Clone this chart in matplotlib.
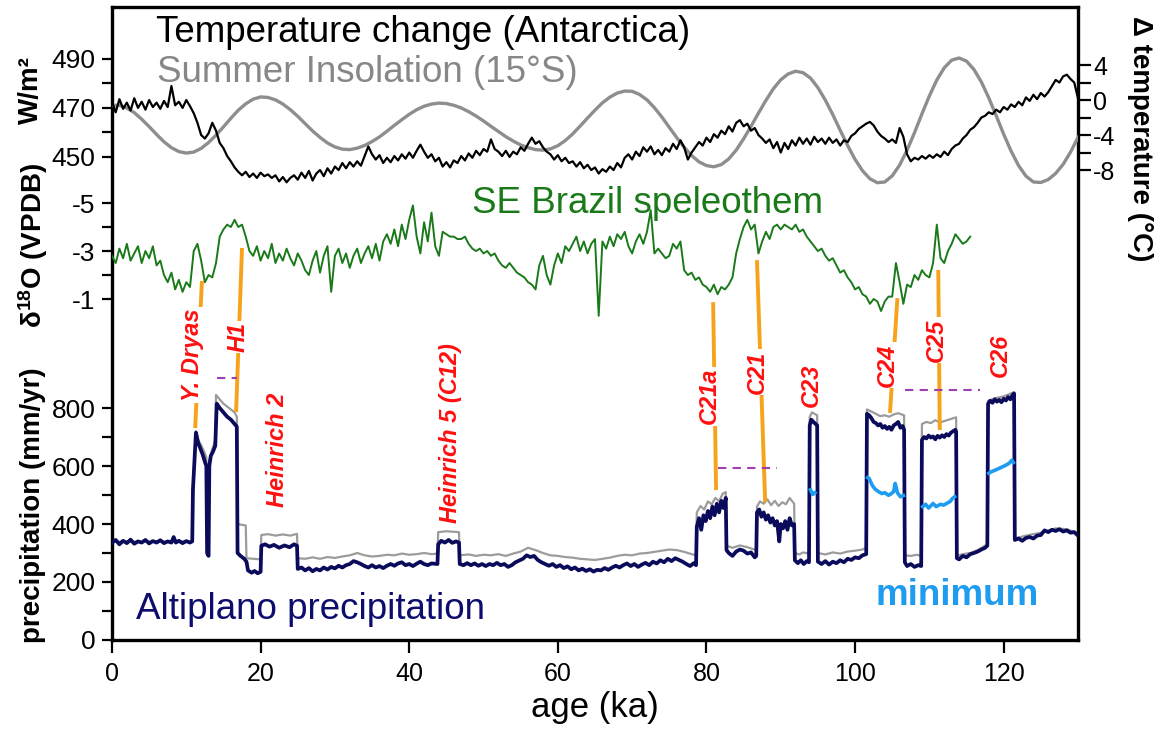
import numpy as np
import matplotlib
matplotlib.use("Agg")
import matplotlib.pyplot as plt

plt.rcParams['font.family'] = ['Liberation Sans', 'DejaVu Sans']
plt.rcParams['axes.unicode_minus'] = False
plt.rcParams['mathtext.fontset'] = 'custom'
plt.rcParams['mathtext.rm'] = 'Liberation Sans'
plt.rcParams['mathtext.bf'] = 'Liberation Sans:bold'
plt.rcParams['mathtext.it'] = 'Liberation Sans:italic'
plt.rcParams['mathtext.default'] = 'regular'

# Temperatura Antartica (degC), un valor cada 0.5 ka desde 0 ka
tempAntartica = [
    -0.2, -1.4, 0.1, -1.0, -0.3, -1.2, 0.2, -0.9, -0.2, -1.1,
    0.0, -0.8, -0.3, -1.0, -0.1, -0.8, 1.6, -0.6, -0.2, -0.9,
    0.0, -0.7, -1.5, -2.6, -4.0, -4.4, -3.8, -2.6, -3.5, -4.9,
    -5.5, -6.4, -7.0, -7.7, -8.2, -8.6, -8.2, -8.8, -8.4, -8.9,
    -8.3, -8.7, -8.5, -8.9, -8.6, -9.3, -8.8, -9.4, -8.9, -8.6,
    -9.1, -8.3, -8.9, -8.1, -9.2, -8.4, -8.0, -8.7, -7.8, -8.4,
    -7.6, -8.0, -7.2, -7.8, -7.1, -7.6, -7.0, -7.5, -6.4, -5.3,
    -6.2, -6.8, -6.3, -7.2, -6.6, -7.1, -6.4, -6.9, -6.2, -6.7,
    -6.0, -6.6, -5.8, -5.1, -5.9, -6.6, -6.2, -7.0, -6.6, -7.6,
    -7.1, -7.7, -6.9, -7.2, -6.4, -6.9, -6.1, -6.6, -5.8, -6.3,
    -5.6, -5.9, -4.5, -5.6, -5.9, -6.4, -5.8, -6.5, -5.9, -6.2,
    -5.4, -5.8, -5.0, -4.3, -5.0, -4.7, -5.4, -5.9, -6.2, -6.8,
    -6.3, -7.0, -6.6, -7.2, -7.0, -7.6, -7.1, -7.8, -7.4, -8.0,
    -7.7, -8.4, -7.9, -8.2, -7.6, -8.0, -7.2, -7.7, -6.6, -6.2,
    -6.8, -5.9, -6.4, -5.4, -5.9, -5.3, -6.2, -5.7, -6.3, -5.5,
    -5.9, -5.0, -5.6, -4.6, -5.4, -6.8, -6.0, -5.4, -4.8, -5.2,
    -4.3, -4.8, -3.9, -4.3, -3.5, -3.9, -3.0, -3.6, -2.6, -2.3,
    -3.0, -2.7, -3.5, -3.2, -4.0, -4.4, -4.9, -4.5, -5.5, -4.8,
    -6.0, -4.9, -5.6, -4.6, -5.2, -4.3, -5.0, -4.4, -5.1, -4.2,
    -4.8, -4.4, -5.0, -4.3, -4.9, -4.5, -5.2, -4.6, -4.8, -4.1,
    -3.8, -3.3, -3.0, -2.7, -2.5, -2.9, -3.6, -4.1, -4.4, -4.8,
    -4.5, -4.9, -3.2, -4.2, -6.2, -7.0, -6.6, -6.8, -6.4, -6.7,
    -6.3, -6.6, -6.2, -6.5, -5.9, -6.3, -5.6, -5.2, -5.0, -4.4,
    -4.0, -3.4, -3.1, -2.6, -2.0, -1.8, -1.4, -1.6, -1.1, -1.4,
    -0.8, -1.1, -0.5, -0.8, -0.2, -0.6, 0.3, -0.1, 0.6, 0.1,
    0.8, 0.4, 0.9, 1.6, 2.3, 2.0, 2.7, 2.9, 2.4, 2.0,
    0.2]

# Insolacion de verano 15S (W/m2), un valor cada 1 ka
insolacion = [
    471.1, 471.1, 470.0, 468.1, 465.4, 462.4, 459.2, 456.2, 453.8, 452.2,
    451.6, 452.0, 453.5, 455.9, 458.9, 462.3, 465.8, 469.1, 471.7, 473.6,
    474.5, 474.3, 473.3, 471.6, 469.3, 466.6, 463.6, 460.6, 458.0, 455.7,
    454.1, 453.2, 453.0, 453.6, 454.7, 456.3, 458.2, 460.5, 462.9, 465.2,
    467.4, 469.3, 470.7, 471.6, 472.0, 471.8, 471.1, 470.0, 468.5, 466.7,
    464.7, 462.5, 460.4, 458.3, 456.5, 454.9, 453.8, 453.0, 452.8, 453.3,
    454.6, 456.7, 459.4, 462.6, 465.9, 469.1, 472.1, 474.4, 476.1, 476.9,
    476.8, 475.5, 473.3, 470.1, 466.3, 462.1, 457.9, 454.0, 450.6, 448.0,
    446.5, 446.0, 446.9, 449.2, 452.8, 457.4, 462.5, 467.9, 473.1, 477.8,
    481.5, 483.9, 485.0, 484.4, 482.2, 478.3, 473.2, 467.3, 460.9, 454.7,
    449.0, 444.4, 441.1, 439.5, 439.8, 442.3, 446.7, 452.8, 459.9, 467.6,
    474.9, 481.4, 486.4, 489.5, 490.4, 489.1, 485.7, 480.6, 474.1, 466.8,
    459.3, 452.4, 446.5, 442.2, 439.8, 439.6, 440.8, 443.3, 447.0, 452.0,
    458.0]

# d18O espeleotema SE Brasil (permil VPDB), cada 0.5 ka desde 0 ka
d18oBrasil = [
    -2.8, -2.5, -3.1, -2.7, -3.3, -2.6, -2.9, -3.2, -2.5, -3.0,
    -2.7, -3.2, -2.4, -2.6, -2.0, -1.7, -2.1, -1.4, -1.8, -1.3,
    -1.7, -1.5, -3.0, -3.3, -2.6, -1.7, -2.0, -1.9, -2.5, -3.6,
    -3.9, -4.1, -4.0, -4.3, -4.0, -4.1, -3.6, -3.0, -2.8, -3.2,
    -2.6, -3.0, -2.7, -3.3, -2.5, -2.9, -2.6, -3.1, -2.7, -2.4,
    -2.9, -2.6, -2.2, -2.0, -2.6, -3.0, -2.1, -2.8, -3.2, -1.3,
    -2.8, -3.1, -2.5, -2.9, -2.3, -2.8, -3.1, -2.5, -2.9, -3.2,
    -2.7, -3.3, -2.6, -3.4, -3.7, -3.3, -3.9, -3.2, -4.1, -3.5,
    -4.3, -4.9, -3.6, -2.9, -4.2, -3.4, -4.6, -3.2, -2.8, -3.8,
    -3.7, -3.6, -3.6, -3.5, -3.5, -3.6, -3.3, -3.1, -3.0, -3.1,
    -2.9, -3.0, -2.8, -2.9, -2.6, -2.4, -2.3, -2.5, -2.3, -2.1,
    -2.0, -1.9, -1.7, -1.6, -1.4, -2.4, -2.8, -2.0, -1.6, -2.4,
    -2.9, -2.5, -3.2, -3.0, -3.3, -3.6, -3.0, -3.4, -2.9, -3.3,
    -3.5, -0.3, -3.4, -3.1, -3.6, -3.2, -3.7, -3.5, -3.8, -3.2,
    -2.9, -3.4, -3.7, -3.3, -3.8, -4.7, -2.9, -3.1, -2.9, -2.7,
    -2.8, -3.3, -3.1, -3.4, -2.2, -2.0, -2.1, -1.8, -1.9, -1.6,
    -1.5, -1.3, -1.6, -1.2, -1.5, -1.4, -1.6, -1.9, -2.9, -3.5,
    -4.0, -4.3, -3.9, -4.1, -2.9, -3.4, -3.8, -3.5, -4.0, -4.1,
    -3.9, -4.1, -4.0, -3.9, -4.1, -3.8, -3.9, -3.6, -3.4, -3.2,
    -3.0, -3.1, -2.8, -2.6, -2.7, -2.4, -2.1, -2.2, -1.9, -1.7,
    -1.4, -1.5, -1.2, -1.1, -0.8, -1.0, -0.9, -0.5, -0.9, -1.1,
    -1.1, -2.5, -1.7, -0.8, -1.6, -1.5, -2.0, -1.8, -2.2, -2.0,
    -1.9, -2.5, -4.1, -2.7, -2.5, -3.0, -3.3, -3.7, -3.5, -3.3,
    -3.4, -3.6]

# Precipitacion Altiplano (mm/yr), pares (edad ka, valor)
precipPuntos = [
    (0, 335), (0.5, 345), (1, 330), (1.5, 342), (2, 334), (2.5, 346), (3, 332), (3.5, 340),
    (4, 336), (4.5, 345), (5, 333), (5.5, 341), (6, 336), (6.5, 344), (7, 334), (7.5, 340),
    (8, 336), (8.3, 355), (8.6, 336), (9, 342), (9.5, 334), (10, 341), (10.5, 336), (10.8, 340),
    (10.9, 520), (11.0, 570), (11.3, 715), (11.6, 680), (11.9, 660), (12.2, 640), (12.5, 615),
    (12.7, 600), (12.8, 300), (13.0, 290), (13.1, 600), (13.3, 635), (13.6, 650), (13.9, 670),
    (14.1, 815), (14.5, 800), (15.0, 785), (15.5, 770), (16.0, 760), (16.5, 745), (16.8, 736),
    (16.9, 300), (17.3, 290), (17.8, 280), (18.1, 270), (18.3, 240), (18.8, 232), (19.2, 238),
    (19.6, 230), (20.0, 235),
    (20.1, 325), (20.6, 330), (21.2, 322), (21.8, 328), (22.5, 318), (23.2, 326), (23.9, 320),
    (24.5, 330), (24.9, 325),
    (25.0, 245), (25.5, 250), (26, 240), (26.5, 248), (27, 237), (27.5, 245), (28, 240),
    (28.5, 250), (29, 243), (29.5, 252), (30, 247), (30.5, 256), (31, 250), (31.5, 258),
    (32, 262), (32.5, 272), (33, 268), (33.5, 262), (34, 255), (34.5, 250), (35, 258),
    (35.5, 250), (36, 255), (36.5, 248), (37, 256), (37.5, 262), (38, 256), (38.5, 264),
    (39, 268), (39.5, 258), (40, 262), (40.5, 255), (41, 263), (41.5, 270), (42, 262),
    (42.5, 258), (43, 264), (43.8, 262),
    (43.9, 330), (44.3, 342), (44.8, 336), (45.3, 345), (45.8, 335), (46.3, 340), (46.7, 336),
    (46.8, 262), (47.3, 258), (47.8, 265), (48.3, 258), (48.8, 264), (49.3, 256), (49.8, 262),
    (50.3, 255), (50.8, 262), (51.3, 258), (51.8, 266), (52.3, 258), (52.8, 262), (53.3, 252),
    (53.8, 258), (54.3, 268), (54.8, 274), (55.3, 280), (55.8, 292), (56.3, 286), (56.8, 290),
    (57.3, 276), (57.8, 268), (58.3, 262), (58.8, 256), (59.3, 262), (59.8, 252), (60.3, 258),
    (60.8, 248), (61.3, 254), (61.8, 244), (62.3, 250), (62.8, 240), (63.3, 246), (63.8, 238),
    (64.3, 244), (64.8, 236), (65.3, 242), (65.8, 240), (66.3, 248), (66.8, 242), (67.3, 250),
    (67.8, 256), (68.3, 250), (68.8, 258), (69.3, 264), (69.8, 255), (70.3, 262), (70.8, 252),
    (71.3, 260), (71.8, 266), (72.3, 258), (72.8, 270), (73.3, 264), (73.8, 275), (74.3, 268),
    (74.8, 280), (75.3, 272), (75.8, 282), (76.3, 276), (76.8, 270), (77.3, 262), (77.8, 255),
    (78.3, 265), (78.6, 258),
    (78.7, 390), (79.0, 420), (79.3, 380), (79.6, 430), (79.9, 410), (80.2, 445), (80.5, 420),
    (80.8, 460), (81.1, 430), (81.4, 470), (81.7, 440), (82.0, 480), (82.3, 455), (82.6, 490),
    (82.7, 310), (83.0, 300), (83.5, 290), (84.0, 305), (84.5, 312), (85.0, 308), (85.5, 298),
    (86.0, 302), (86.5, 285), (86.7, 290),
    (86.8, 440), (87.1, 450), (87.4, 425), (87.7, 440), (88.0, 415), (88.3, 430), (88.6, 405),
    (88.9, 420), (89.2, 395), (89.5, 410), (89.8, 340), (90.0, 400), (90.3, 385), (90.6, 410),
    (90.9, 380), (91.2, 420), (91.5, 395), (91.8, 400),
    (91.9, 275), (92.3, 265), (92.7, 275), (93.1, 262), (93.5, 272), (93.8, 268),
    (93.9, 740), (94.1, 760), (94.4, 752), (94.7, 745), (94.9, 740),
    (95.0, 270), (95.5, 262), (96.0, 272), (96.5, 260), (97.0, 270), (97.5, 265), (98.0, 275),
    (98.5, 268), (99.0, 280), (99.5, 276), (100.0, 285), (100.5, 282), (101.0, 292), (101.5, 296),
    (101.6, 780), (101.9, 775), (102.2, 765), (102.5, 752), (102.8, 748), (103.1, 740),
    (103.4, 745), (103.7, 732), (104.0, 738), (104.3, 728), (104.6, 735), (104.9, 725),
    (105.2, 740), (105.5, 745), (105.8, 752), (106.1, 732), (106.4, 738), (106.6, 725),
    (106.7, 268), (107.0, 255), (107.5, 262), (108.0, 252), (108.5, 258), (108.9, 255),
    (109.0, 690), (109.3, 700), (109.6, 695), (109.9, 705), (110.2, 698), (110.5, 702),
    (110.8, 692), (111.1, 704), (111.4, 698), (111.7, 706), (112.0, 700), (112.3, 710),
    (112.6, 705), (112.9, 715), (113.2, 720), (113.5, 725), (113.6, 718),
    (113.7, 282), (114.0, 278), (114.5, 290), (115.0, 285), (115.5, 296), (116.0, 300),
    (116.5, 305), (117.0, 312), (117.5, 318), (117.8, 325),
    (117.9, 815), (118.2, 825), (118.5, 818), (118.8, 830), (119.1, 822), (119.4, 828),
    (119.7, 820), (120.0, 832), (120.3, 826), (120.6, 838), (120.9, 830), (121.2, 845),
    (121.4, 850),
    (121.5, 345), (122.0, 350), (122.5, 342), (123.0, 352), (123.5, 355), (124.0, 350),
    (124.5, 360), (125.0, 362), (125.5, 378), (126.0, 372), (126.5, 380), (127.0, 376),
    (127.5, 382), (128.0, 374), (128.5, 378), (129.0, 370), (129.5, 372), (130.0, 360)]

# Escenario maximo (linea gris)
maximoPuntos = [
    (0, 338), (2, 340), (4, 338), (6, 341), (8, 338), (10.8, 340), (10.9, 540), (11.0, 580),
    (11.3, 720), (11.6, 690), (12.0, 672), (12.4, 650), (12.7, 630), (12.8, 320), (13.0, 300),
    (13.1, 620), (13.4, 650), (13.9, 690), (14.0, 845), (14.5, 830), (15.0, 815), (15.5, 805),
    (16.0, 795), (16.5, 785), (16.8, 770), (16.9, 400), (17.3, 398), (17.8, 396), (18.0, 395),
    (18.1, 282), (19.0, 280), (20.0, 278), (20.1, 362), (21, 365), (22, 360), (23, 364),
    (24, 360), (24.9, 366), (25.0, 282), (26, 280), (27, 285), (28, 280), (29, 286), (30, 283),
    (31, 288), (32, 292), (33, 300), (34, 292), (35, 288), (36, 290), (37, 294), (38, 292),
    (39, 298), (40, 294), (41, 296), (42, 300), (43, 296), (43.8, 298), (43.9, 372), (45, 375),
    (46.7, 372), (46.8, 292), (48, 295), (49, 290), (50, 294), (51, 292), (52, 296), (53, 290),
    (54, 298), (55, 305), (56, 318), (57, 310), (58, 300), (59, 292), (60, 290), (61, 286),
    (62, 284), (63, 280), (64, 278), (65, 276), (66, 280), (67, 284), (68, 290), (69, 294),
    (70, 292), (71, 298), (72, 300), (73, 304), (74, 308), (75, 312), (76, 310), (77, 304),
    (78, 296), (78.6, 292),
    (78.7, 440), (79.2, 462), (79.7, 450), (80.2, 478), (80.7, 468), (81.2, 490), (81.7, 478),
    (82.2, 505), (82.6, 510), (82.7, 325), (83.5, 318), (84.5, 326), (85.5, 320), (86.7, 310),
    (86.8, 460), (87.2, 478), (87.7, 470), (88.2, 485), (88.7, 465), (89.2, 480), (89.7, 462),
    (90.2, 475), (90.7, 468), (91.2, 490), (91.8, 470), (91.9, 300), (92.5, 295), (93.0, 302),
    (93.8, 298), (93.9, 770), (94.2, 785), (94.9, 775), (95.0, 300), (96, 295), (97, 302),
    (98, 298), (99, 305), (100, 308), (101, 312), (101.5, 318),
    (101.6, 795), (102.2, 788), (102.8, 780), (103.4, 772), (104.0, 775), (104.6, 770),
    (105.2, 778), (105.8, 782), (106.6, 775), (106.7, 292), (107.5, 290), (108.3, 294),
    (108.9, 290), (109.0, 745), (109.6, 752), (110.2, 748), (110.8, 758), (111.4, 750),
    (112.0, 755), (112.6, 760), (113.2, 765), (113.6, 768), (113.7, 290), (114.5, 296),
    (115.5, 300), (116.5, 310), (117.8, 330), (117.9, 825), (119, 835), (120, 840),
    (121.4, 855), (121.5, 350), (123, 360), (125, 370), (127, 385), (128.5, 382), (130, 368)]

# Escenario minimo (celeste) en los eventos C23-C26
minimoC23 = [(94.0, 518), (94.3, 502), (94.6, 508)]
minimoC24 = [(101.7, 560), (101.9, 557), (102.3, 534), (102.7, 520), (103.2, 511), (103.6, 505),
             (104.0, 508), (104.5, 499), (104.9, 505), (105.2, 512), (105.4, 540), (105.7, 508),
             (106.1, 494), (106.5, 498)]
minimoC25 = [(109.1, 460), (109.5, 468), (109.9, 455), (110.5, 471), (110.9, 460), (111.5, 468),
             (111.9, 465), (112.4, 472), (112.8, 478), (113.1, 488), (113.4, 494)]
minimoC26 = [(118.0, 575), (118.3, 580), (118.8, 585), (119.4, 592), (119.9, 598), (120.3, 603),
             (120.7, 609), (121.1, 620), (121.3, 612)]

# Etiquetas de eventos (posicion en ka y nivel en escala de precipitacion)
eventos = ['Y. Dryas', 'H1', 'Heinrich 2', 'Heinrich 5 (C12)', 'C21a', 'C21', 'C23', 'C24', 'C25', 'C26']
eventoEdad = [10.9, 17.0, 22.3, 45.5, 80.4, 86.8, 94.1, 104.3, 111.0, 119.5]
eventoNivel = [983, 1045, 655, 714, 841, 924, 879, 948, 1034, 983]

# Lineas naranjas que unen espeleotema y precipitacion
lineaEdadSup = [12.1, 17.5, 80.9, 86.8, 105.7, 111.2]
lineaNivelSup = [1238, 1352, 1165, 1310, 1179, 1276]
lineaEdadInf = [11.2, 16.7, 81.3, 87.9, 104.7, 111.4]
lineaNivelInf = [731, 786, 517, 476, 783, 724]

# Trazos morados
trazoEdadIni = [14.1, 81.6, 106.7]
trazoEdadFin = [16.8, 89.5, 116.8]
trazoNivel = [903, 593, 862]


def separar(puntos):
    edades, valores = zip(*puntos)
    return list(edades), list(valores)


def ejeIzquierdo(eje, limites, mayores, menores):
    eje.set_ylim(*limites)
    eje.yaxis.tick_left()
    eje.set_yticks(mayores)
    eje.set_yticks(menores, minor=True)
    for lado in eje.spines.values():
        lado.set_visible(False)
    eje.tick_params(axis='y', which='both', length=7, width=1.6, labelsize=19, pad=5)


def main():
    fig = plt.figure(figsize=(11.58, 7.30), dpi=100)
    ax = fig.add_axes([0.0967, 0.1233, 0.8342, 0.8671])
    ax.set_xlim(0, 130)
    ax.set_ylim(0, 2183)
    for lado in ax.spines.values():
        lado.set_linewidth(2.4)

    ax.set_xticks(np.arange(0, 121, 20))
    ax.set_yticks([0, 200, 400, 600, 800])
    ax.set_yticks(np.arange(100, 701, 200), minor=True)
    ax.tick_params(axis='x', length=9, width=1.6, labelsize=18, pad=7)
    ax.tick_params(axis='y', which='both', length=7, width=1.6, labelsize=19, pad=5)

    # Precipitacion: maximo, principal y minimo
    edad, valor = separar(maximoPuntos)
    ax.plot(edad, valor, color='#9c9c9c', lw=1.6, zorder=2)
    edad, valor = separar(precipPuntos)
    ax.plot(edad, valor, color='#0b0b5c', lw=2.7, zorder=3)
    for tramo in (minimoC23, minimoC24, minimoC25, minimoC26):
        edad, valor = separar(tramo)
        ax.plot(edad, valor, color='#1e9cf0', lw=2.6, zorder=4)

    for i in range(len(lineaEdadSup)):
        ax.plot([lineaEdadSup[i], lineaEdadInf[i]], [lineaNivelSup[i], lineaNivelInf[i]],
                color='#f7a21b', lw=2.8, solid_capstyle='butt', zorder=4)
    for i in range(len(trazoNivel)):
        ax.plot([trazoEdadIni[i], trazoEdadFin[i]], [trazoNivel[i], trazoNivel[i]],
                color='#a040b0', lw=1.5, ls=(0, (4, 3)), zorder=4)
    for i in range(len(eventos)):
        ax.text(eventoEdad[i], eventoNivel[i], eventos[i], rotation=90, color='#ff1010',
                style='italic', fontweight='bold', fontsize=17, ha='center', va='center',
                zorder=6, bbox=dict(facecolor='white', edgecolor='none', pad=1.0))

    # Insolacion (W/m2)
    axW = ax.twinx()
    ejeIzquierdo(axW, (252.9, 511.2), [450, 470, 490], [460, 480])
    axW.plot(np.arange(len(insolacion)) * 1.0, insolacion, color='#8e8e8e', lw=2.4)

    # d18O (eje invertido)
    axD = ax.twinx()
    ejeIzquierdo(axD, (13.21, -13.17), [-5, -3, -1], [-4, -2])
    axD.plot(np.arange(len(d18oBrasil)) * 0.5, d18oBrasil, color='#1a7a1a', lw=1.4)

    # Temperatura (eje derecho)
    axT = ax.twinx()
    axT.set_ylim(-61.7, 10.63)
    for lado in axT.spines.values():
        lado.set_visible(False)
    axT.set_yticks([-8, -4, 0, 4])
    axT.set_yticks([-6, -2, 2], minor=True)
    axT.tick_params(axis='y', which='both', length=9, width=1.6, labelsize=18, pad=2)
    axT.plot(np.arange(len(tempAntartica)) * 0.5, tempAntartica, color='black', lw=1.6)

    # Textos de las series
    ax.text(0.0455, 0.9447, 'Temperature change (Antarctica)', transform=ax.transAxes,
            fontsize=26.5, color='black', va='baseline')
    ax.text(0.0466, 0.8815, 'Summer Insolation (15°S)', transform=ax.transAxes,
            fontsize=26.5, color='#878787', va='baseline')
    ax.text(0.3727, 0.6746, 'SE Brazil speleothem', transform=ax.transAxes,
            fontsize=26.5, color='#1a7a1a', va='baseline')
    ax.text(0.0248, 0.0332, 'Altiplano precipitation', transform=ax.transAxes,
            fontsize=26.5, color='#0d0d6e', va='baseline')
    ax.text(0.790, 0.0553, 'minimum', transform=ax.transAxes, fontsize=26.5,
            fontweight='bold', color='#1e9cf0', va='baseline')

    # Titulos de ejes
    fig.text(0.027, 0.877, 'W/m²', rotation=90, fontsize=20, fontweight='bold',
             ha='center', va='center')
    fig.text(0.0285, 0.663, r'$\delta^{\mathbf{18}}$O (VPDB)', rotation=90, fontsize=20,
             fontweight='bold', ha='center', va='center')
    fig.text(0.0285, 0.308, 'precipitation (mm/yr)', rotation=90, fontsize=20,
             fontweight='bold', ha='center', va='center')
    fig.text(0.9845, 0.8096, 'Δ temperature (°C)', rotation=270, fontsize=20,
             fontweight='bold', ha='center', va='center')
    fig.text(0.514, 0.0315, 'age (ka)', fontsize=25, ha='center', va='center')

    fig.savefig('out.png', dpi=100)


if __name__ == "__main__":
    main()
